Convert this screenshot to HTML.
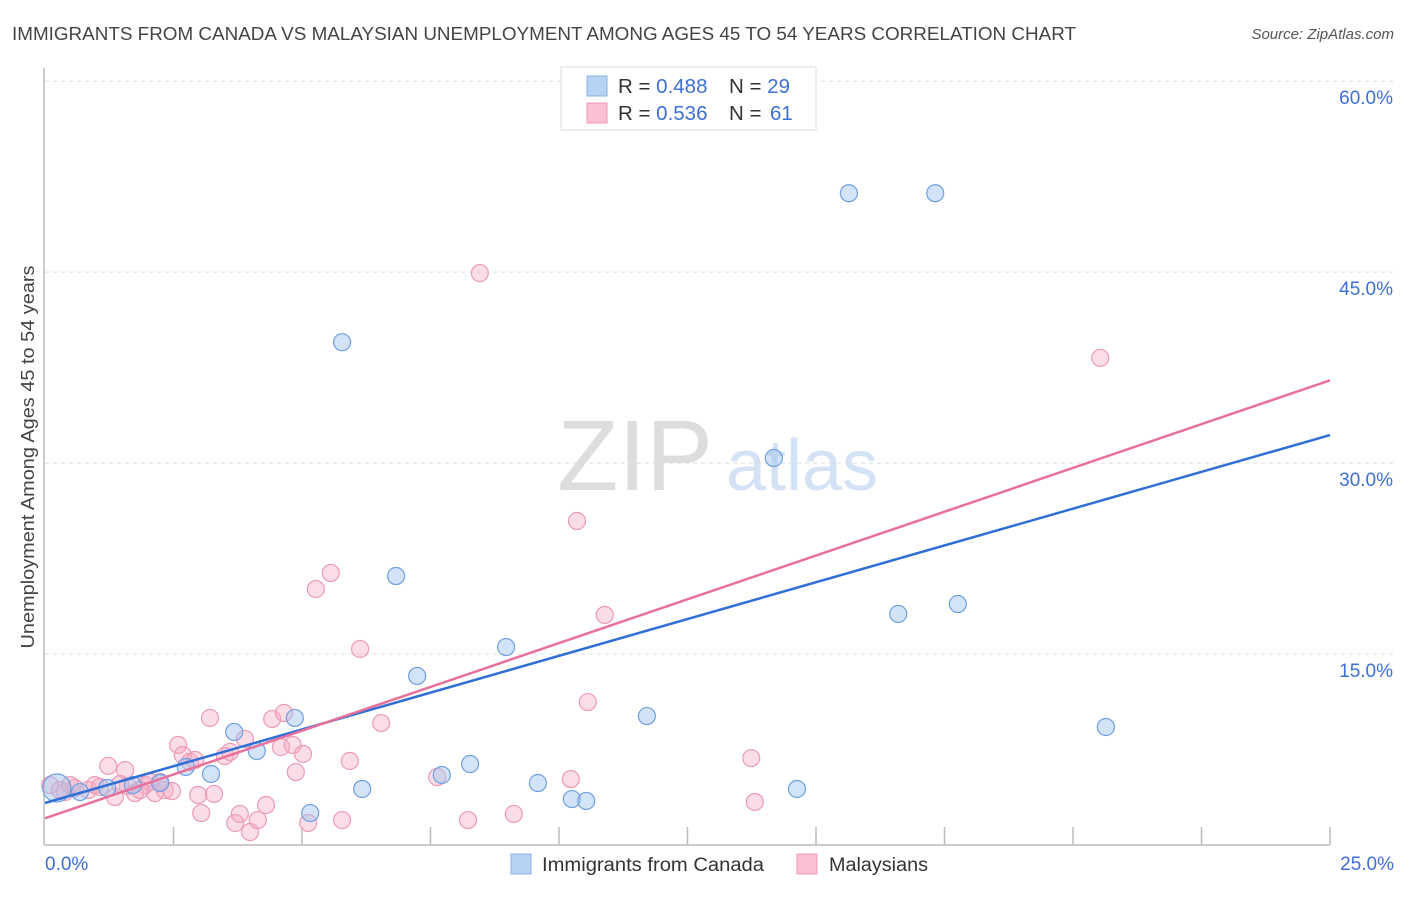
<!DOCTYPE html>
<html><head><meta charset="utf-8"><style>
body{margin:0;background:#fff;font-family:"Liberation Sans",sans-serif}
svg text{font-family:"Liberation Sans",sans-serif}
</style></head><body>
<svg id="chart" width="1406" height="892" xmlns="http://www.w3.org/2000/svg">
<text x="12" y="40" font-size="18.5" fill="#444" textLength="1064" lengthAdjust="spacingAndGlyphs">IMMIGRANTS FROM CANADA VS MALAYSIAN UNEMPLOYMENT AMONG AGES 45 TO 54 YEARS CORRELATION CHART</text>
<text x="1394" y="39" font-size="15" fill="#555" font-style="italic" text-anchor="end">Source: ZipAtlas.com</text>
<text x="635" y="490" font-size="100" fill="#ddd" font-family="Liberation Serif,serif" text-anchor="middle">ZIP</text>
<text x="802" y="490" font-size="72" fill="#d4e2f5" text-anchor="middle">atlas</text>
<g id="grid"></g><g id="ticks"></g>
<line x1="44" y1="68" x2="44" y2="845" stroke="#bbb" stroke-width="1.5"/>
<line x1="44" y1="845" x2="1330" y2="845" stroke="#bbb" stroke-width="1.5"/>
<g id="pts"></g><g id="lines"></g>
<text x="45" y="870" font-size="19" fill="#3d6fd6">0.0%</text>
<text x="1394" y="870" font-size="19" fill="#3d6fd6" text-anchor="end">25.0%</text>
<text transform="translate(34,457) rotate(-90)" font-size="18.5" fill="#444" text-anchor="middle" textLength="383" lengthAdjust="spacingAndGlyphs">Unemployment Among Ages 45 to 54 years</text>
<g>
<rect x="561" y="67" width="255" height="63" fill="#fff" stroke="#ddd"/>
<rect x="587" y="76" width="20" height="20" fill="#b8d2f4" stroke="#8ab0e6"/>
<rect x="587" y="103" width="20" height="20" fill="#f8c0d0" stroke="#ee9ab4"/>
<text x="618" y="93" font-size="20.5" fill="#333">R = <tspan fill="#3d6fd6">0.488</tspan><tspan x="729">N = </tspan><tspan fill="#3d6fd6">29</tspan></text>
<text x="618" y="120" font-size="20.5" fill="#333">R = <tspan fill="#3d6fd6">0.536</tspan><tspan x="729">N = </tspan><tspan fill="#3d6fd6" x="770">61</tspan></text>
</g>
<g>
<rect x="511" y="854" width="20" height="20" fill="#b8d2f4" stroke="#8ab0e6"/>
<text x="542" y="871" font-size="19" fill="#333" textLength="222" lengthAdjust="spacingAndGlyphs">Immigrants from Canada</text>
<rect x="797" y="854" width="20" height="20" fill="#f8c0d0" stroke="#ee9ab4"/>
<text x="829" y="871" font-size="19" fill="#333" textLength="99" lengthAdjust="spacingAndGlyphs">Malaysians</text>
</g>
</svg>
<script>
const yTicks=[15,30,45,60];
const yTickLabels=["15.0%","30.0%","45.0%","60.0%"];
const xTicks=[2.5,5,7.5,10,12.5,15,17.5,20,22.5,25];
const blueX=[0.23,0.68,1.21,1.71,2.24,2.74,3.23,3.68,4.12,4.86,5.16,5.78,6.17,6.83,7.24,7.72,8.27,8.97,9.59,10.25,10.53,11.71,14.18,14.63,15.64,16.6,17.32,17.76,20.64];
const blueY=[4.48,4.16,4.48,4.71,4.87,6.13,5.58,8.88,7.38,9.98,2.51,39.5,4.4,21.13,13.28,5.5,6.36,15.55,4.87,3.61,3.46,10.13,30.4,4.4,51.2,18.15,51.2,18.93,9.27];
const pinkX=[0.1,0.29,0.58,0.84,0.97,1.23,1.36,1.56,1.61,1.75,1.95,2.04,2.14,2.33,2.47,2.59,2.68,2.82,2.98,3.04,3.21,3.29,3.5,3.7,3.79,3.89,3.99,4.14,4.3,4.42,4.59,4.65,4.82,4.88,5.02,5.12,5.27,5.56,5.78,5.93,6.13,6.54,7.63,8.23,8.46,9.12,10.23,10.35,10.56,10.89,13.74,13.81,20.53,0.39,1.07,1.85,2.24,1.46,3.6,0.49,2.92];
const pinkY=[4.71,4.32,4.48,4.32,4.71,6.21,3.77,5.89,4.63,4.08,4.71,4.95,4.08,4.32,4.24,7.86,7.07,6.52,3.93,2.51,9.98,4.01,6.99,1.73,2.44,8.33,1.02,1.96,3.14,9.9,7.7,10.37,7.86,5.73,7.15,1.73,20.11,21.37,1.96,6.6,15.4,9.58,5.34,1.96,44.93,2.44,5.18,25.45,11.23,18.07,6.83,3.38,38.26,4.16,4.56,4.32,4.95,4.79,7.31,4.71,6.68];
const blueTrend=[3.3,32.2];
const pinkTrend=[2.1,36.5];
const X=v=>45+v*51.4, Y=v=>845-v*12.73;
const NS="http://www.w3.org/2000/svg";
function mk(p,t,a){const e=document.createElementNS(NS,t);for(const k in a)e.setAttribute(k,a[k]);document.getElementById(p).appendChild(e);return e;}
yTicks.forEach((t,i)=>{
 const l=mk('grid','line',{x1:45,x2:1394,y1:Y(t),y2:Y(t),stroke:'#ddd','stroke-dasharray':'4,4'});
 
 
 const tx=mk('grid','text',{x:1393,y:Y(t)+23,'font-size':19,fill:'#3d6fd6','text-anchor':'end'});
 tx.textContent=yTickLabels[i];
 
 
});
xTicks.forEach(t=>{
 const l=mk('ticks','line',{x1:X(t),x2:X(t),y1:827,y2:845,stroke:'#bbb','stroke-width':1.5});
 
 
});
pinkX.forEach((x,i)=>{
 const c=mk('pts','circle',{cx:X(x),cy:Y(pinkY[i]),r:8.5,fill:'rgba(244,170,195,0.4)',stroke:'#ec9ab5','stroke-width':1.2});
 
 
});
blueX.forEach((x,i)=>{
 const c=mk('pts','circle',{cx:X(x),cy:Y(blueY[i]),r:i==0?14:8.5,fill:'rgba(160,195,240,0.45)',stroke:'#6e9fe0','stroke-width':1.2});
 
 
});
const bl=mk('lines','line',{x1:X(0),y1:Y(blueTrend[0]),x2:X(25),y2:Y(blueTrend[1]),stroke:'#2f6fd6','stroke-width':2.5});


const pl=mk('lines','line',{x1:X(0),y1:Y(pinkTrend[0]),x2:X(25),y2:Y(pinkTrend[1]),stroke:'#e8709a','stroke-width':2.5});


</script>
</body></html>
